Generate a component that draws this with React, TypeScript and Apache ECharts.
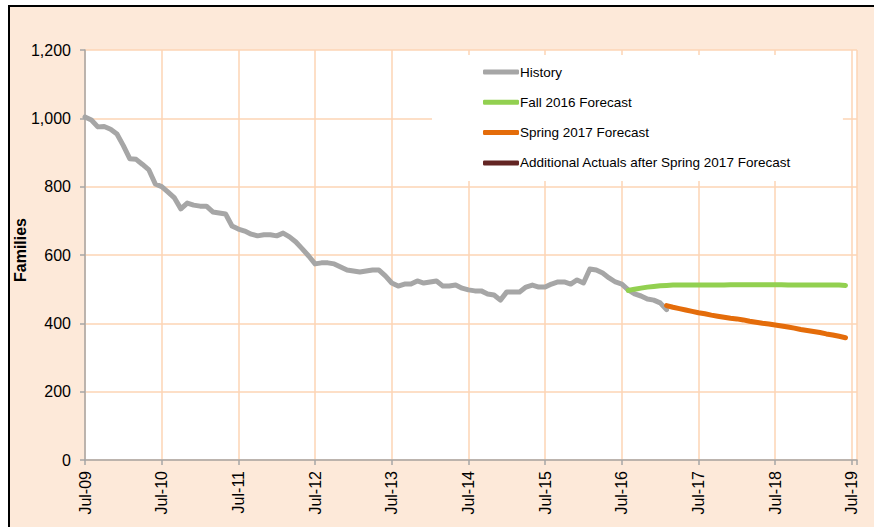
import React, { useEffect, useRef } from 'react';
import * as echarts from 'echarts';

// Month index 0 = Jul-09, 12 months per tick
const tickLabels = ['Jul-09', 'Jul-10', 'Jul-11', 'Jul-12', 'Jul-13', 'Jul-14', 'Jul-15', 'Jul-16', 'Jul-17', 'Jul-18', 'Jul-19'];
const yTicks = [0, 200, 400, 600, 800, 1000, 1200];

const historyStart = 0;
const history = [
  1004, 995, 975, 976, 968, 954, 920, 882, 880, 865, 849, 808,
  800, 784, 767, 735, 752, 746, 743, 743, 726, 723, 720, 685,
  676, 670, 661, 656, 659, 659, 656, 664, 653, 638, 618, 597,
  574, 577, 577, 574, 565, 556, 553, 550, 553, 556, 556, 539,
  518, 509, 515, 515, 524, 518, 521, 524, 509, 509, 512, 503,
  498, 495, 495, 486, 483, 468, 492, 492, 492, 506, 512, 506,
  506, 515, 521, 521, 515, 527, 518, 559, 556, 547, 533, 521,
  515, 498, 486, 480, 471, 468, 460, 440,
];

const fallStart = 85;
const fall2016 = [
  496, 500, 503, 506, 508, 510, 511, 512, 512, 512, 512, 512,
  512, 512, 512, 512, 513, 513, 513, 513, 513, 513, 513, 513,
  513, 512, 512, 512, 512, 512, 512, 512, 512, 512, 511,
];

const springStart = 91;
const spring2017 = [
  452, 447, 443, 439, 435, 431, 428, 424, 421, 418, 415, 413,
  410, 406, 403, 400, 398, 395, 392, 389, 386, 382, 379, 376,
  373, 369, 366, 362, 358,
];

const additionalStart = 91;
const additionalActuals: number[] = [];

const seriesNames = ['History', 'Fall 2016 Forecast', 'Spring 2017 Forecast', 'Additional Actuals after Spring 2017 Forecast'];
const seriesColors = ['#A6A6A6', '#92D050', '#E46C0A', '#632523'];

const toPairs = (start: number, vals: number[]) => vals.map((v, i) => [start + i, v]);

export default function App() {
  const ref = useRef<HTMLDivElement>(null);
  useEffect(() => {
    const chart = echarts.init(ref.current!, null, { renderer: 'svg' });
    const font = '"Liberation Sans", Arial, sans-serif';
    const grid = '#FCD5B4';
    const axisGray = '#A6A6A6';
    const datasets = [
      toPairs(historyStart, history),
      toPairs(fallStart, fall2016),
      toPairs(springStart, spring2017),
      toPairs(additionalStart, additionalActuals),
    ];
    chart.setOption({
      animation: false,
      textStyle: { fontFamily: font },
      grid: {
        left: 75, top: 43, width: 772, height: 410,
        show: true, backgroundColor: '#ffffff', borderWidth: 0,
        containLabel: false, outerBoundsMode: 'none',
      },
      legend: {
        orient: 'vertical',
        left: 422, top: 48,
        padding: [10, 52, 11, 51],
        backgroundColor: '#ffffff',
        itemWidth: 36, itemHeight: 5, itemGap: 16.3,
        icon: 'roundRect',
        textStyle: { fontSize: 13.5, lineHeight: 14, color: '#000', fontFamily: font, padding: [0, 0, 0, -4] },
        data: seriesNames,
      },
      xAxis: {
        type: 'value',
        min: 0, max: 120.8, interval: 12,
        axisLine: { show: true, lineStyle: { color: axisGray, width: 1.5 } },
        axisTick: { show: true, length: 5, lineStyle: { color: axisGray, width: 1.5 } },
        axisLabel: {
          rotate: 90, fontSize: 16, color: '#000', margin: 11, fontFamily: font,
          formatter: (v: number) => (Math.abs(v % 12) < 1e-6 ? tickLabels[Math.round(v / 12)] : ''),
        },
        splitLine: { show: true, lineStyle: { color: grid, width: 1.5 } },
      },
      yAxis: {
        type: 'value',
        min: yTicks[0], max: yTicks[yTicks.length - 1], interval: 200,
        name: 'Families',
        nameLocation: 'middle', nameRotate: 90, nameGap: 57,
        nameMoveOverlap: false,
        nameTextStyle: { fontWeight: 'bold', fontSize: 16, color: '#000', fontFamily: font, padding: [0, 0, 0, 10] },
        axisLine: { show: true, lineStyle: { color: axisGray, width: 1.5 } },
        axisTick: { show: true, length: 5, lineStyle: { color: axisGray, width: 1.5 } },
        axisLabel: {
          fontSize: 16, color: '#000', margin: 14, fontFamily: font,
          formatter: (v: number) => v.toLocaleString('en-US'),
        },
        splitLine: { show: true, lineStyle: { color: grid, width: 1.5 } },
      },
      series: seriesNames.map((name, k) => ({
        name,
        type: 'line',
        data: datasets[k],
        showSymbol: false,
        symbol: 'none',
        color: seriesColors[k],
        lineStyle: { width: 5, color: seriesColors[k], cap: 'round', join: 'round' },
        z: 3 + k,
      })),
    });
    return () => chart.dispose();
  }, []);
  return (
    <div style={{ position: 'fixed', left: 0, top: 0, width: 874, height: 527, overflow: 'hidden', background: '#fff' }}>
      <div style={{
        position: 'absolute', left: 8, top: 5, width: 880, height: 530,
        border: '2px solid #000', background: '#FDE9D9', boxSizing: 'border-box',
      }}>
        <div ref={ref} style={{ width: 876, height: 526 }} />
      </div>
    </div>
  );
}
